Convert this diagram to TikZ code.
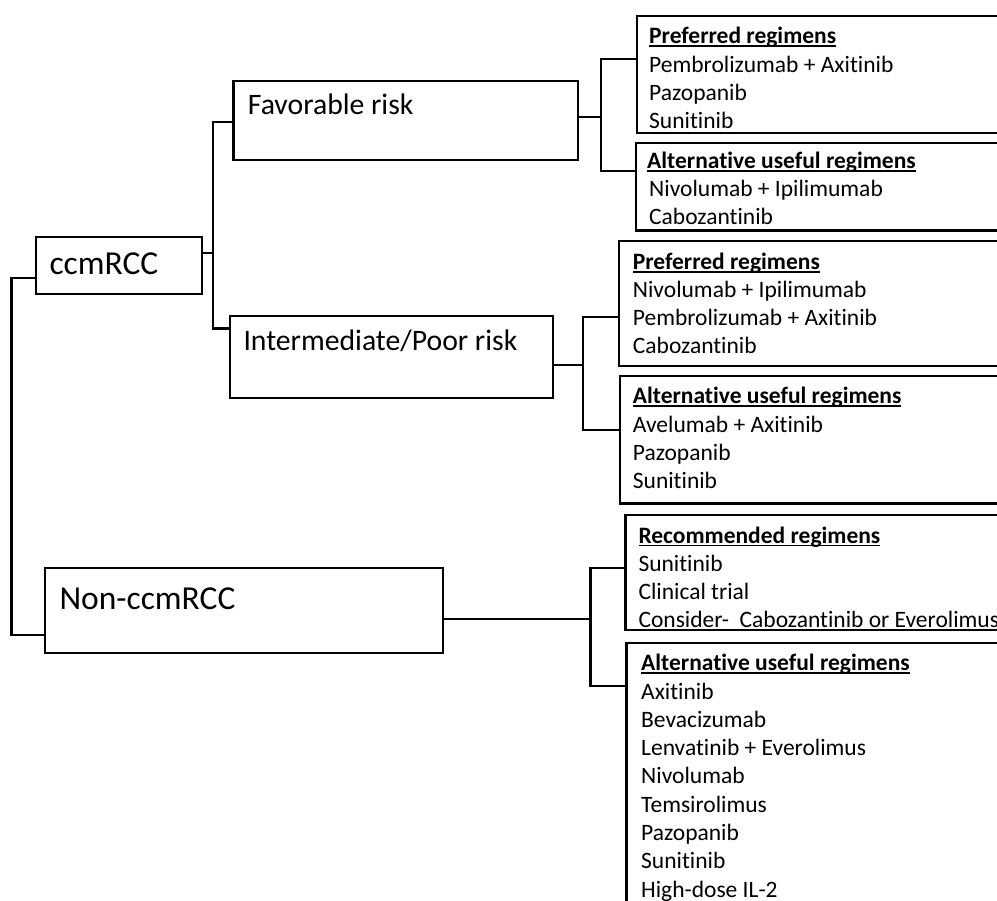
\documentclass[tikz,border=0pt]{standalone}
\usepackage{fontspec}
\setmainfont{Carlito}[Ligatures={NoCommon,NoContextual},RawFeature={-liga;-clig}]
\usetikzlibrary{calc}
\newcommand\hdr[1]{\setbox0\hbox{\textbf{#1}}\rlap{\rule[-3.2pt]{\wd0}{1.8pt}}\box0}
\begin{document}
\begin{tikzpicture}[x=1pt,y=-1pt,
  box/.style={draw, line width=2.3pt, rectangle, inner sep=0pt, outer sep=0pt, anchor=north west},
  conn/.style={line width=2.3pt},
  item/.style={inner sep=0pt, anchor=base west, font=\fontsize{23.5}{28.3}\selectfont},
  risk/.style={inner sep=0pt, anchor=base west, font=\fontsize{29.7}{34}\selectfont},
  cls/.style={inner sep=0pt, anchor=base west, font=\fontsize{33.5}{38}\selectfont}]
\useasboundingbox (0,0) rectangle (997,901);
\fill[white] (0,0) rectangle (997,901);
\clip (0,0) rectangle (997,901);

% main boxes
\node[box, minimum width=166pt, minimum height=57pt] (ccm) at (36,237) {};
\node[box, minimum width=398pt, minimum height=85pt] (non) at (45,568) {};
\node[box, minimum width=344.5pt, minimum height=79pt] (fav) at (233.5,81) {};
\node[box, minimum width=323pt, minimum height=82pt] (int) at (230,316) {};
% regimen boxes
\node[box, minimum width=380pt, minimum height=117pt] (b1) at (637,16) {};
\node[box, minimum width=380pt, minimum height=87.5pt] (b2) at (636,143) {};
\node[box, minimum width=380pt, minimum height=125pt] (b3) at (619,241) {};
\node[box, minimum width=380pt, minimum height=127.5pt] (b4) at (620,376) {};
\node[box, minimum width=380pt, minimum height=115pt] (b5) at (625.5,515) {};
\node[box, minimum width=380pt, minimum height=280pt] (b6) at (626.5,643) {};

% labels
\node[cls] (ccmt) at (49.3,274.3) {ccmRCC};
\node[cls] (nont) at (59.3,609.3) {Non-ccmRCC};
\node[risk] (favt) at (247.7,115) {Favorable risk};
\node[risk] (intt) at (243.3,350.7) {Intermediate/Poor risk};

% box 1
\node[item] (b1h) at (649,43.8) {\hdr{Preferred regimens}};
\foreach \t [count=\i] in {Pembrolizumab + Axitinib, Pazopanib, Sunitinib}
  \node[item] (b1t\i) at (649,{43.8+\i*28.3}) {\t};
% box 2
\node[item] (b2h) at (647,169) {\hdr{Alternative useful regimens}};
\foreach \t [count=\i] in {Nivolumab + Ipilimumab, Cabozantinib}
  \node[item] (b2t\i) at (649,{169+\i*28}) {\t};
% box 3
\node[item] (b3h) at (632.7,269.5) {\hdr{Preferred regimens}};
\foreach \t [count=\i] in {Nivolumab + Ipilimumab, Pembrolizumab + Axitinib, Cabozantinib}
  \node[item] (b3t\i) at (632.7,{269.5+\i*28}) {\t};
% box 4
\node[item] (b4h) at (632.7,404) {\hdr{Alternative useful regimens}};
\foreach \t [count=\i] in {Avelumab + Axitinib, Pazopanib, Sunitinib}
  \node[item] (b4t\i) at (632.7,{404+\i*28.2}) {\t};
% box 5
\node[item] (b5h) at (638.3,543.3) {\hdr{Recommended regimens}};
\foreach \t [count=\i] in {Sunitinib, Clinical trial, Consider-\ \ Cabozantinib or Everolimus}
  \node[item] (b5t\i) at (638.3,{543.3+\i*27.9}) {\t};
% box 6
\node[item] (b6h) at (641,670.7) {\hdr{Alternative useful regimens}};
\foreach \t [count=\i] in {Axitinib, Bevacizumab, Lenvatinib + Everolimus, Nivolumab, Temsirolimus, Pazopanib, Sunitinib, High-dose IL-2}
  \node[item] (b6t\i) at (641,{670.7+\i*28.3}) {\t};

% connectors
\draw[conn] ([yshift=16pt]ccm.south west) -- ++(-24.5,0) |- ([yshift=18pt]non.south west);

\coordinate (j1) at (213,253);
\draw[conn] ([yshift=-16pt]ccm.north east) -- (j1);
\draw[conn] ([yshift=-41pt]fav.north west) -| (j1) |- ([yshift=-12.5pt]int.north west);

\coordinate (j2) at (601,116.7);
\draw[conn] ([yshift=-35.7pt]fav.north east) -- (j2);
\draw[conn] ([yshift=-43.3pt]b1.north west) -| (j2) |- ([yshift=-27.7pt]b2.north west);

\coordinate (j3) at (583.3,365);
\draw[conn] ([yshift=-49pt]int.north east) -- (j3);
\draw[conn] ([yshift=-76.3pt]b3.north west) -| (j3) |- ([yshift=-54pt]b4.north west);

\coordinate (j4) at (590.5,619.3);
\draw[conn] ([yshift=-51.3pt]non.north east) -- (j4);
\draw[conn] ([yshift=-53pt]b5.north west) -| (j4) |- ([yshift=-43pt]b6.north west);
\end{tikzpicture}
\end{document}
